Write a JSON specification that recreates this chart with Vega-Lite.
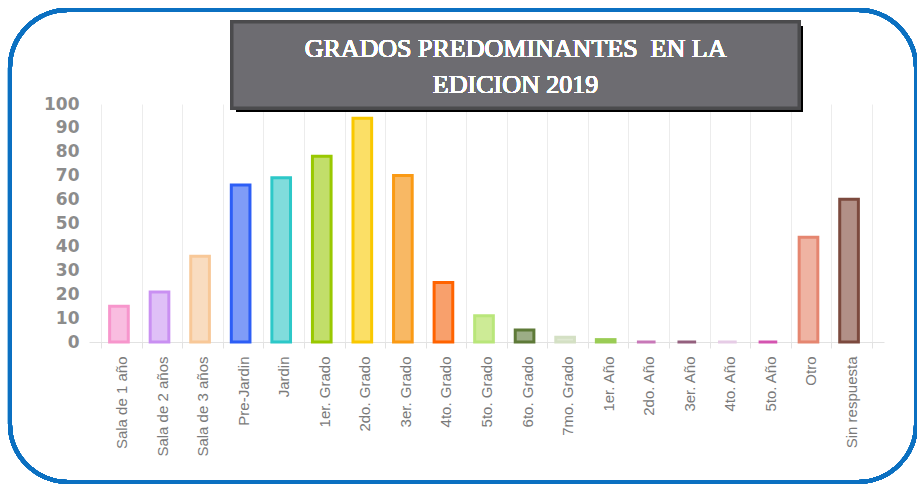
{
  "$schema": "https://vega.github.io/schema/vega-lite/v6.json",
  "width": 795,
  "height": 238,
  "padding": {"left": 7, "top": 7, "right": 0, "bottom": 1},
  "background": "white",
  "config": {"view": {"stroke": null}},
  "data": {"values": [
    {"grado": "Sala de 1 año", "valor": 15},
    {"grado": "Sala de 2 años", "valor": 21},
    {"grado": "Sala de 3 años", "valor": 36},
    {"grado": "Pre-Jardin", "valor": 66},
    {"grado": "Jardin", "valor": 69},
    {"grado": "1er. Grado", "valor": 78},
    {"grado": "2do. Grado", "valor": 94},
    {"grado": "3er. Grado", "valor": 70},
    {"grado": "4to. Grado", "valor": 25},
    {"grado": "5to. Grado", "valor": 11},
    {"grado": "6to. Grado", "valor": 5},
    {"grado": "7mo. Grado", "valor": 2},
    {"grado": "1er. Año", "valor": 1},
    {"grado": "2do. Año", "valor": 0},
    {"grado": "3er. Año", "valor": 0},
    {"grado": "4to. Año", "valor": 0},
    {"grado": "5to. Año", "valor": 0},
    {"grado": "Otro", "valor": 44},
    {"grado": "Sin respuesta", "valor": 60}
  ]},
  "resolve": {"scale": {"x": "independent", "y": "independent"}, "axis": {"x": "independent", "y": "independent"}},
  "layer": [
    {
      "mark": {"type": "rect", "fill": null, "stroke": "#0b70c1", "strokeWidth": 4, "cornerRadius": 58},
      "encoding": {
        "x": {"datum": -0.0994, "type": "quantitative", "scale": {"domain": [0, 1], "nice": false, "zero": false}, "axis": null},
        "x2": {"datum": 1.0403},
        "y": {"datum": 139.5, "type": "quantitative", "scale": {"domain": [0, 100], "nice": false, "zero": false}, "axis": null},
        "y2": {"datum": -58.8}
      }
    },
    {
      "mark": {"type": "bar", "strokeWidth": 3, "width": {"band": 0.46}, "xOffset": -2.5},
      "encoding": {
        "x": {"field": "grado", "type": "nominal", "sort": null,
          "scale": {"paddingInner": 0, "paddingOuter": 0.3},
          "axis": {"title": null, "labelAngle": -90, "labelFont": "Liberation Sans", "labelFontSize": 15, "labelColor": "#7a7a7a",
            "labelPadding": 8, "tickBand": "extent", "tickSize": 6, "tickColor": "#e2e2e2", "domainColor": "#e2e2e2",
            "grid": true, "gridColor": "#ececec"}},
        "y": {"field": "valor", "type": "quantitative", "scale": {"domain": [0, 100], "nice": false},
          "axis": {"title": null, "values": [0,10,20,30,40,50,60,70,80,90,100], "domain": false, "ticks": false,
            "labelPadding": 10, "labelFont": "DejaVu Sans", "labelFontSize": 17, "labelFontWeight": "bold", "labelColor": "#8c8c8c",
            "gridColor": "#ececec"}},
        "fill": {"field": "grado", "type": "nominal", "sort": null, "legend": null,
          "scale": {"range": ["#f9bde0","#dfc0f7","#f9dcc0","#7f9cf7","#80dcdc","#c2de6a","#fbdf66","#f8b864","#f8a06c","#cdeb96","#9cad86","#dfe8d2","#a8d46a","#d690c8","#a67896","#eedcee","#dc6cbc","#efb3a2","#b29087"]}},
        "stroke": {"field": "grado", "type": "nominal", "sort": null, "legend": null,
          "scale": {"range": ["#f796cc","#c990f2","#f8c898","#2d5ef6","#2dc8c8","#99c800","#f9c800","#fa9a14","#ff6300","#b9e67a","#5e7a38","#d4e0c4","#9acc55","#c878b8","#94607e","#e6cce6","#d454b0","#e58670","#7c4a3e"]}}
      }
    },
    {
      "mark": {"type": "rect", "fill": "#000000", "opacity": 0.3},
      "encoding": {
        "x": {"datum": 0.1849, "type": "quantitative", "scale": {"domain": [0, 1], "nice": false, "zero": false}, "axis": null},
        "x2": {"datum": 0.8981},
        "y": {"datum": 132.8, "type": "quantitative", "scale": {"domain": [0, 100], "nice": false, "zero": false}, "axis": null},
        "y2": {"datum": 96.6}
      }
    },
    {
      "mark": {"type": "rect", "fill": "#6d6c71", "stroke": "#4b4b4d", "strokeWidth": 3},
      "encoding": {
        "x": {"datum": 0.1799, "type": "quantitative", "scale": {"domain": [0, 1], "nice": false, "zero": false}, "axis": null},
        "x2": {"datum": 0.8931},
        "y": {"datum": 134.45, "type": "quantitative", "scale": {"domain": [0, 100], "nice": false, "zero": false}, "axis": null},
        "y2": {"datum": 98.3}
      }
    },
    {
      "mark": {"type": "text", "font": "Liberation Serif", "fontSize": 26, "fontWeight": 200, "fill": "#ffffff", "stroke": null, "align": "center", "baseline": "middle", "lineHeight": 36},
      "encoding": {
        "x": {"datum": 0.5365, "type": "quantitative", "scale": {"domain": [0, 1], "nice": false, "zero": false}, "axis": null},
        "y": {"datum": 123.1, "type": "quantitative", "scale": {"domain": [0, 100], "nice": false, "zero": false}, "axis": null},
        "text": {"value": ["GRADOS PREDOMINANTES\u00a0 EN LA", "EDICION 2019"]}
      }
    }
  ]
}
